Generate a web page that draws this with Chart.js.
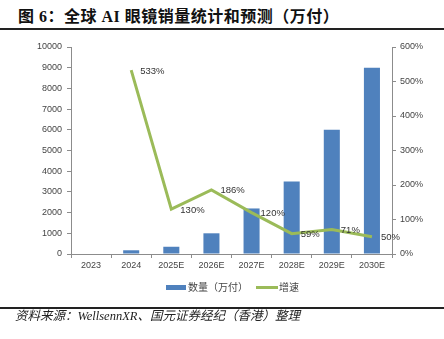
<!DOCTYPE html>
<html>
<head>
<meta charset="utf-8">
<script src="https://cdn.jsdelivr.net/npm/chart.js@4/dist/chart.umd.min.js"></script>
<style>
  html, body { margin: 0; padding: 0; background: #fff; }
  #page { position: relative; width: 444px; height: 339px; overflow: hidden; background: #fff; }
  #title { position: absolute; left: 18px; top: 8px; font: bold 16px "Liberation Serif", "Noto Sans CJK SC", serif; letter-spacing: 0.5px; color: #111; line-height: 18px; white-space: nowrap; }
  .rule { position: absolute; left: 0; width: 444px; height: 2px; background: #222; }
  #source { position: absolute; left: 15px; top: 309px; font: italic 12.5px "Liberation Serif", "Noto Sans CJK SC", serif; color: #222; line-height: 14px; white-space: nowrap; }
  #chartBox { position: absolute; left: 0; top: 0; width: 444px; height: 339px; }
  .legend { position: absolute; font: 10px "Noto Sans CJK SC", sans-serif; color: #444; line-height: 12px; white-space: nowrap; }
  .swatch { position: absolute; }
</style>
</head>
<body>
<div id="page">
  <div id="title">图 6：全球 AI 眼镜销量统计和预测（万付）</div>
  <div class="rule" style="top:28px"></div>
  <div id="chartBox"><canvas id="c" width="444" height="339"></canvas></div>
  <div class="swatch" style="left:166px;top:285px;width:20px;height:5px;background:#4F81BD"></div>
  <div class="legend" style="left:188px;top:281px">数量（万付）</div>
  <div class="swatch" style="left:256px;top:286px;width:22px;height:3px;background:#9BBB59"></div>
  <div class="legend" style="left:279px;top:281px">增速</div>
  <div class="rule" style="top:307px"></div>
  <div id="source">资料来源：WellsennXR、国元证券经纪（香港）整理</div>
</div>
<script>
// Global AI glasses shipments (10k pairs) and year-on-year growth (%)
const years = ['2023', '2024', '2025E', '2026E', '2027E', '2028E', '2029E', '2030E'];
const shipments = [0, 180, 350, 1000, 2200, 3500, 6000, 9000];
const growth = [null, 533, 130, 186, 120, 59, 71, 50];
const leftTicks = [0, 1000, 2000, 3000, 4000, 5000, 6000, 7000, 8000, 9000, 10000];
const rightTicks = [0, 100, 200, 300, 400, 500, 600];

const tickFont = { family: 'Liberation Sans, Arial, sans-serif', size: 9 };
const tickColor = '#444';
const axisColor = '#8c8c8c';

// Percent labels to the right of each growth point
const growthLabels = {
  id: 'growthLabels',
  afterDatasetsDraw(chart) {
    const meta = chart.getDatasetMeta(1);
    const ctx = chart.ctx;
    ctx.save();
    ctx.font = '9.5px Liberation Sans, Arial, sans-serif';
    ctx.fillStyle = '#333';
    ctx.textAlign = 'left';
    ctx.textBaseline = 'middle';
    meta.data.forEach((pt, i) => {
      const v = growth[i];
      if (v === null || v === undefined) return;
      ctx.fillText(v + '%', pt.x + 9, pt.y + 1);
    });
    ctx.restore();
  }
};

new Chart(document.getElementById('c'), {
  data: {
    labels: years,
    datasets: [
      {
        type: 'bar',
        label: '数量（万付）',
        data: shipments,
        backgroundColor: '#4F81BD',
        yAxisID: 'y',
        categoryPercentage: 1,
        barPercentage: 0.4,
        order: 2
      },
      {
        type: 'line',
        label: '增速',
        data: growth,
        borderColor: '#9BBB59',
        backgroundColor: '#9BBB59',
        borderWidth: 3,
        pointRadius: 0,
        tension: 0,
        yAxisID: 'y1',
        order: 1
      }
    ]
  },
  options: {
    responsive: false,
    animation: false,
    layout: { padding: { left: 0, right: 0, top: 47, bottom: 65 } },
    plugins: { legend: { display: false }, title: { display: false }, tooltip: { enabled: false } },
    scales: {
      x: {
        grid: { display: true, offset: true, drawOnChartArea: false, drawTicks: true, tickLength: 4, color: axisColor },
        border: { color: axisColor },
        ticks: { font: tickFont, color: tickColor, padding: 2, maxRotation: 0 },
        afterFit(s) { s.height = 20; }
      },
      y: {
        position: 'left',
        min: 0, max: 10000,
        afterBuildTicks(s) { s.ticks = leftTicks.map(v => ({ value: v })); },
        grid: { drawOnChartArea: false, tickLength: 4, color: axisColor },
        border: { color: axisColor },
        ticks: { font: tickFont, color: tickColor, padding: 5, callback: v => String(v) },
        afterFit(s) { s.width = 71; }
      },
      y1: {
        position: 'right',
        min: 0, max: 600,
        afterBuildTicks(s) { s.ticks = rightTicks.map(v => ({ value: v })); },
        grid: { drawOnChartArea: false, tickLength: 4, color: axisColor },
        border: { color: axisColor },
        ticks: { font: tickFont, color: tickColor, padding: 4, callback: v => v + '%' },
        afterFit(s) { s.width = 52; }
      }
    }
  },
  plugins: [growthLabels]
});
</script>
</body>
</html>
